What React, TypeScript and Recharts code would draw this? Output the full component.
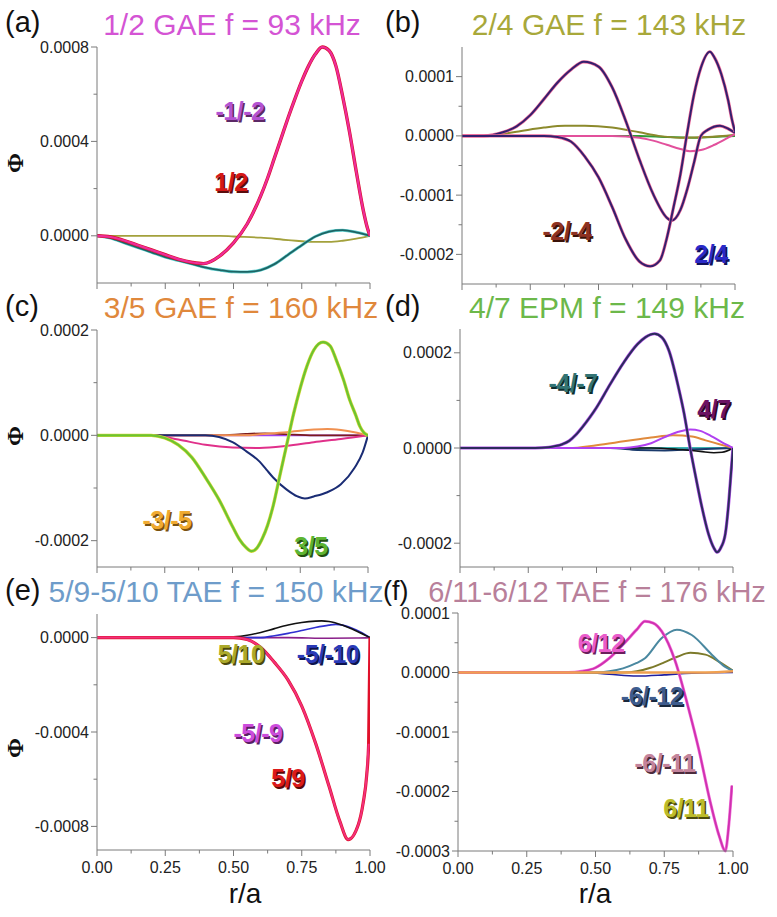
import React from "react";
import { LineChart, Line, XAxis, YAxis } from "recharts";

type Pt = [number, number];

// Φ values below are in units of 1e-5, r/a from 0 to 1

// (a) 1/2 GAE
const A_12: Pt[] = [[0, 0], [0.05, -0.5], [0.1, -2], [0.15, -4], [0.2, -6], [0.25, -8], [0.3, -10], [0.35, -11.3], [0.39, -11.8], [0.45, -8.5], [0.5, -3], [0.55, 5], [0.6, 17], [0.625, 24.5], [0.65, 33], [0.675, 41.5], [0.7, 50], [0.725, 58], [0.75, 65.5], [0.775, 72], [0.8, 77], [0.825, 80], [0.85, 78.5], [0.875, 72], [0.9, 59], [0.925, 44], [0.95, 27], [0.975, 11], [0.99, 3.5], [1, 0]];
const A_M12: Pt[] = A_12;
const A_TEAL: Pt[] = [[0, 0], [0.05, -1], [0.1, -3], [0.15, -5], [0.2, -7], [0.25, -9], [0.3, -10.5], [0.35, -12], [0.4, -13.5], [0.45, -14.5], [0.5, -15.2], [0.55, -15.3], [0.6, -14.5], [0.65, -12], [0.7, -8], [0.75, -4], [0.8, -0.3], [0.85, 1.8], [0.9, 2.4], [0.95, 1.5], [1, 0]];
const A_OLIVE: Pt[] = [[0, 0], [0.45, 0], [0.5, -0.3], [0.6, -0.8], [0.7, -1.8], [0.8, -2.6], [0.85, -2.6], [0.9, -2.1], [0.95, -1.2], [1, 0]];

// (b) 2/4 GAE
const B_PEAK: Pt[] = [[0, 0], [0.08, 0], [0.15, 0.6], [0.2, 1.6], [0.25, 3.5], [0.3, 6.2], [0.35, 9], [0.4, 11.2], [0.446, 12.5], [0.5, 11.7], [0.55, 8.2], [0.6, 2.5], [0.65, -4], [0.7, -9.8], [0.75, -13.8], [0.768, -14.3], [0.8, -12.5], [0.825, -9], [0.85, -4.5], [0.875, 0], [0.9, 1], [0.945, 1.7], [0.975, 1.2], [1, 0.5]];
const B_DEEP: Pt[] = [[0, 0], [0.3, 0], [0.35, -0.2], [0.4, -1], [0.45, -3.5], [0.5, -7], [0.55, -12], [0.6, -17.5], [0.65, -21.2], [0.689, -22], [0.725, -21], [0.75, -17.3], [0.775, -12], [0.8, -6.5], [0.823, 0], [0.85, 7], [0.875, 11.5], [0.908, 14.2], [0.925, 13.2], [0.95, 10.4], [0.975, 6], [0.99, 2.5], [1, 0.7]];
const B_OLIVE: Pt[] = [[0, 0], [0.1, 0.1], [0.2, 0.7], [0.3, 1.4], [0.377, 1.7], [0.45, 1.7], [0.55, 1.4], [0.65, 0.6], [0.72, 0], [0.8, -0.3], [0.9, -0.2], [1, 0.2]];
const B_PINK: Pt[] = [[0, 0], [0.55, 0], [0.65, -0.3], [0.7, -0.8], [0.75, -1.5], [0.8, -2.2], [0.835, -2.6], [0.875, -2.4], [0.925, -1.5], [0.975, -0.3], [1, 0.3]];
const B_GREEN: Pt[] = [[0, 0], [0.65, 0], [0.75, -0.2], [0.85, -0.3], [0.95, -0.1], [1, 0]];

// (c) 3/5 GAE
const C_35: Pt[] = [[0, 0], [0.2, 0], [0.25, -0.5], [0.3, -1.8], [0.35, -4.2], [0.4, -8], [0.45, -12.2], [0.5, -17.3], [0.525, -19.7], [0.55, -21.3], [0.57, -22], [0.59, -21.4], [0.61, -19.6], [0.63, -17], [0.65, -13.4], [0.674, -7.8], [0.7, -1.8], [0.725, 4], [0.75, 9], [0.775, 13.2], [0.8, 16.2], [0.834, 17.7], [0.86, 17], [0.883, 14.3], [0.91, 10.5], [0.932, 6.8], [0.955, 3.8], [0.97, 1.7], [0.985, 0.5], [1, 0]];
const C_NAVY: Pt[] = [[0, 0], [0.4, 0], [0.45, -0.3], [0.5, -1.3], [0.55, -3], [0.6, -5], [0.625, -6.5], [0.65, -8], [0.7, -10.3], [0.74, -11.6], [0.767, -12], [0.8, -11.6], [0.85, -10.8], [0.9, -9.3], [0.95, -6.2], [0.98, -3.3], [1, 0]];
const C_PINK: Pt[] = [[0, 0], [0.2, 0], [0.3, -0.8], [0.4, -1.8], [0.5, -2.3], [0.6, -2.4], [0.7, -2], [0.8, -1.3], [0.9, -0.7], [1, 0]];
const C_ORANGE: Pt[] = [[0, 0], [0.55, 0], [0.6, 0.2], [0.7, 0.6], [0.8, 1.1], [0.85, 1.2], [0.9, 1], [0.95, 0.6], [1, 0]];
const C_BROWN: Pt[] = [[0, 0], [0.45, 0], [0.55, 0.3], [0.62, 0.4], [0.7, 0.2], [0.8, 0], [1, 0]];
const C_PURPLE: Pt[] = [[0, 0], [1, 0]];

// (d) 4/7 EPM
const D_MAIN: Pt[] = [[0, 0], [0.25, 0], [0.3, 0.05], [0.325, 0.15], [0.35, 0.4], [0.375, 0.8], [0.4, 1.5], [0.425, 2.8], [0.45, 4.5], [0.475, 6.4], [0.5, 8.5], [0.55, 13.4], [0.6, 18], [0.65, 21.8], [0.68, 23.3], [0.713, 24], [0.74, 23.2], [0.765, 20.5], [0.8, 12.8], [0.82, 7.5], [0.843, 0], [0.865, -6.5], [0.886, -12.4], [0.91, -18], [0.93, -21], [0.941, -21.9], [0.955, -21], [0.972, -18], [0.985, -11], [0.993, -5], [1, 0]];
const D_47: Pt[] = [[0, 0], [0.6, 0], [0.65, 0.3], [0.7, 1], [0.75, 2.3], [0.8, 3.4], [0.843, 3.9], [0.88, 3.6], [0.92, 2.5], [0.96, 1.2], [0.99, 0.3], [1, 0]];
const D_ORANGE: Pt[] = [[0, 0], [0.4, 0], [0.5, 0.6], [0.6, 1.4], [0.7, 2.2], [0.78, 2.7], [0.85, 2.4], [0.9, 1.6], [0.95, 0.8], [1, 0]];
const D_BLACK: Pt[] = [[0, 0], [0.7, 0], [0.8, -0.3], [0.88, -0.7], [0.93, -1], [0.96, -0.9], [1, 0]];
const D_NAVY: Pt[] = [[0, 0], [0.55, 0], [0.65, -0.4], [0.75, -0.5], [0.85, -0.3], [0.95, -0.1], [1, 0]];
const D_TEAL: Pt[] = [[0, 0], [1, 0]];

// (e) 5/9-5/10 TAE
const E_59: Pt[] = [[0, 0], [0.5, 0], [0.55, -0.8], [0.6, -4.2], [0.65, -10.5], [0.7, -18], [0.75, -29], [0.8, -44.5], [0.85, -63], [0.89, -78], [0.92, -85.6], [0.957, -79.3], [0.975, -70], [0.988, -58.2], [0.995, -45], [1, 0]];
const E_M59: Pt[] = [[0, 0], [0.5, 0], [0.55, -0.8], [0.6, -4.2], [0.65, -10.5], [0.7, -18], [0.75, -29], [0.8, -44.5], [0.85, -63], [0.89, -78], [0.92, -85.6], [0.957, -79.3], [0.975, -70], [0.988, -58.2], [0.995, -45]];
const E_BLACK: Pt[] = [[0, 0], [0.45, 0], [0.5, 0.3], [0.55, 1], [0.6, 2.2], [0.65, 3.8], [0.7, 5.3], [0.75, 6.4], [0.8, 7], [0.823, 7.1], [0.85, 6.8], [0.9, 5.2], [0.95, 2.8], [1, 0]];
const E_BLUE: Pt[] = [[0, 0], [0.6, 0], [0.65, 0.8], [0.7, 1.8], [0.75, 3], [0.8, 4.3], [0.85, 5.3], [0.875, 5.6], [0.9, 5.3], [0.95, 3.2], [1, 0]];
const E_PURPLE: Pt[] = [[0, 0], [0.7, 0], [0.85, -0.3], [0.95, -0.2], [1, 0]];

// (f) 6/11-6/12 TAE
const F_MAG: Pt[] = [[0, 0], [0.4, 0], [0.45, 0.2], [0.5, 0.8], [0.55, 2.4], [0.6, 4.7], [0.65, 7.2], [0.68, 8.6], [0.71, 8.3], [0.741, 6.9], [0.79, 1.9], [0.838, -6], [0.875, -12.8], [0.917, -21.7], [0.95, -27.5], [0.972, -30], [0.984, -26], [0.996, -19]];
const F_TEAL: Pt[] = [[0, 0], [0.5, 0], [0.55, 0.2], [0.6, 0.7], [0.65, 1.6], [0.68, 2.4], [0.741, 5.8], [0.796, 7.2], [0.85, 6.3], [0.923, 3], [0.97, 1], [1, 0.3]];
const F_OLIVE: Pt[] = [[0, 0], [0.6, 0], [0.65, 0.2], [0.7, 0.8], [0.75, 1.7], [0.8, 2.7], [0.845, 3.3], [0.9, 3], [0.95, 1.8], [1, 0.3]];
const F_NAVY: Pt[] = [[0, 0], [0.45, 0], [0.55, -0.3], [0.65, -0.6], [0.75, -0.4], [0.85, -0.1], [1, 0]];
const F_ORANGE: Pt[] = [[0, 0], [0.9, 0], [1, 0.2]];

const R_TICKS = [0, 0.125, 0.25, 0.375, 0.5, 0.625, 0.75, 0.875, 1];
const R_MAJOR = [0, 0.25, 0.5, 0.75, 1];

const FONT = "'Liberation Sans', Arial, sans-serif";

type Series = { pts: Pt[]; color: string; w: number };
type PanelDef = {
  box: [number, number, number, number];
  domain: [number, number];
  majors: number[];
  minors: number[];
  xLabels: boolean;
  series: Series[];
};

const PANELS: PanelDef[] = [
  {
    box: [97, 47, 370, 283], domain: [-20, 80], majors: [0, 40, 80], minors: [20, 60], xLabels: false,
    series: [
      { pts: A_OLIVE, color: "#a3a13c", w: 1.8 },
      { pts: A_TEAL, color: "#5fd0d0", w: 3 },
      { pts: A_TEAL, color: "#1e6464", w: 1.8 },
      { pts: A_12, color: "#d8102a", w: 3.4 },
      { pts: A_M12, color: "#ee2c9a", w: 2.2 },
    ],
  },
  {
    box: [462, 47, 735, 284], domain: [-25, 15], majors: [10, 0, -10, -20], minors: [5, -5, -15], xLabels: false,
    series: [
      { pts: B_GREEN, color: "#2f9a36", w: 2 },
      { pts: B_OLIVE, color: "#8c8a2c", w: 2 },
      { pts: B_PINK, color: "#e2509c", w: 2 },
      { pts: B_PEAK, color: "#f06a9a", w: 3.2 },
      { pts: B_PEAK, color: "#34206e", w: 2 },
      { pts: B_DEEP, color: "#f06a9a", w: 3.2 },
      { pts: B_DEEP, color: "#34206e", w: 2 },
    ],
  },
  {
    box: [97, 330, 368, 567], domain: [-25, 20], majors: [20, 0, -20], minors: [10, -10], xLabels: false,
    series: [
      { pts: C_PURPLE, color: "#a040f0", w: 1.8 },
      { pts: C_BROWN, color: "#7a1c1c", w: 1.6 },
      { pts: C_ORANGE, color: "#f09050", w: 2 },
      { pts: C_PINK, color: "#e0308a", w: 2 },
      { pts: C_NAVY, color: "#1a2c74", w: 2 },
      { pts: C_35, color: "#d8d83a", w: 3.4 },
      { pts: C_35, color: "#6cc430", w: 2.2 },
    ],
  },
  {
    box: [460, 329, 733, 567], domain: [-25, 25], majors: [20, 0, -20], minors: [10, -10], xLabels: false,
    series: [
      { pts: D_TEAL, color: "#3cb4b4", w: 1.8 },
      { pts: D_NAVY, color: "#1a3a6c", w: 2 },
      { pts: D_BLACK, color: "#111111", w: 1.6 },
      { pts: D_ORANGE, color: "#e08a3c", w: 2 },
      { pts: D_47, color: "#b040f0", w: 2 },
      { pts: D_MAIN, color: "#b050e8", w: 3.2 },
      { pts: D_MAIN, color: "#2c2c5c", w: 2 },
    ],
  },
  {
    box: [97, 614, 370, 850], domain: [-90, 10], majors: [0, -40, -80], minors: [-20, -60], xLabels: true,
    series: [
      { pts: E_PURPLE, color: "#8a208a", w: 1.6 },
      { pts: E_BLUE, color: "#3030d0", w: 1.6 },
      { pts: E_BLACK, color: "#111111", w: 1.6 },
      { pts: E_59, color: "#e0102a", w: 3.2 },
      { pts: E_M59, color: "#f2307c", w: 2 },
    ],
  },
  {
    box: [458, 613, 733, 851], domain: [-30, 10], majors: [10, 0, -10, -20, -30], minors: [5, -5, -15, -25], xLabels: true,
    series: [
      { pts: F_NAVY, color: "#2020a0", w: 1.6 },
      { pts: F_OLIVE, color: "#7c7a2a", w: 2 },
      { pts: F_TEAL, color: "#4a88a0", w: 2 },
      { pts: F_MAG, color: "#f070d8", w: 3 },
      { pts: F_MAG, color: "#d030b0", w: 1.8 },
      { pts: F_ORANGE, color: "#f0a050", w: 2.6 },
    ],
  },
];

const TITLES = [
  { text: "1/2 GAE f = 93 kHz", x: 232, y: 35, color: "#d454d4", size: 30 },
  { text: "2/4 GAE f = 143 kHz", x: 609, y: 35, color: "#a8a83a", size: 30 },
  { text: "3/5 GAE f = 160 kHz", x: 241, y: 318, color: "#e0883c", size: 30 },
  { text: "4/7 EPM f = 149 kHz", x: 607, y: 318, color: "#6cb84a", size: 30 },
  { text: "5/9-5/10 TAE f = 150 kHz", x: 216, y: 602, color: "#6e9cca", size: 30 },
  { text: "6/11-6/12 TAE f = 176 kHz", x: 597, y: 602, color: "#b8809a", size: 29 },
];

const TAGS = [
  { text: "(a)", x: 5, y: 32, size: 29 },
  { text: "(b)", x: 385, y: 32, size: 29 },
  { text: "(c)", x: 5, y: 316, size: 29 },
  { text: "(d)", x: 385, y: 316, size: 29 },
  { text: "(e)", x: 5, y: 600, size: 29 },
  { text: "(f)", x: 383, y: 600, size: 27 },
];

const CURVE_LABELS = [
  { text: "-1/-2", x: 240, y: 120, fill: "#b452d2", shade: "#5c2866" },
  { text: "1/2", x: 231, y: 191, fill: "#d41818", shade: "#5a0c0c" },
  { text: "-2/-4", x: 567, y: 240, fill: "#8e3222", shade: "#3a1208" },
  { text: "2/4", x: 711, y: 263, fill: "#2a2ac8", shade: "#10105a" },
  { text: "-3/-5", x: 167, y: 529, fill: "#f0aa30", shade: "#7a5210" },
  { text: "3/5", x: 311, y: 555, fill: "#5cb432", shade: "#245010" },
  { text: "-4/-7", x: 573, y: 392, fill: "#337474", shade: "#0e2e2e" },
  { text: "4/7", x: 714, y: 418, fill: "#6c1262", shade: "#2c0428" },
  { text: "5/10", x: 241, y: 663, fill: "#acaa2a", shade: "#4c4a0c" },
  { text: "-5/-10", x: 328, y: 663, fill: "#2a3ab8", shade: "#0e144c" },
  { text: "-5/-9", x: 258, y: 742, fill: "#cc4cdc", shade: "#5a1e64" },
  { text: "5/9", x: 288, y: 787, fill: "#dc1a1a", shade: "#5a0808" },
  { text: "6/12", x: 601, y: 652, fill: "#ea5ccc", shade: "#6a1e5c" },
  { text: "-6/-12", x: 652, y: 705, fill: "#3e5c8e", shade: "#18283e" },
  { text: "-6/-11", x: 665, y: 772, fill: "#c4849c", shade: "#4c2c3c" },
  { text: "6/11", x: 686, y: 817, fill: "#bcbc2a", shade: "#4c4c0c" },
];

const rows = (pts: Pt[]) => pts.map(([r, v]) => ({ r, v }));
const fmtY = (v: number) => (v / 100000).toFixed(4);

const YW = 70;
const XH = 30;
const MT = 10;
const MR = 30;

function Panel({ p }: { p: PanelDef }) {
  const [l, t, r, b] = p.box;
  const yTick = (props: any) => {
    const { x, y, payload } = props;
    const major = p.majors.includes(payload.value);
    return (
      <g>
        <line x1={x} x2={x - (major ? 6 : 3.5)} y1={y} y2={y} stroke="#7a7a7a" strokeWidth={1} />
        {major && (
          <text x={x - 8} y={y + 5.5} textAnchor="end" fontSize={16} fontFamily={FONT} fill="#222">
            {fmtY(payload.value)}
          </text>
        )}
      </g>
    );
  };
  const xTick = (props: any) => {
    const { x, y, payload } = props;
    const major = R_MAJOR.includes(payload.value);
    return (
      <g>
        <line x1={x} x2={x} y1={y} y2={y + (major ? 6 : 3.5)} stroke="#7a7a7a" strokeWidth={1} />
        {major && p.xLabels && (
          <text x={x} y={y + 23} textAnchor="middle" fontSize={16} fontFamily={FONT} fill="#222">
            {payload.value.toFixed(2)}
          </text>
        )}
      </g>
    );
  };
  return (
    <div style={{ position: "absolute", left: l - YW, top: t - MT }}>
      <LineChart
        width={r - l + YW + MR}
        height={b - t + MT + XH}
        margin={{ top: MT, right: MR, bottom: 0, left: 0 }}
      >
        <XAxis
          dataKey="r"
          type="number"
          domain={[0, 1]}
          ticks={R_TICKS}
          interval={0}
          height={XH}
          tickSize={0}
          tickMargin={0}
          tickLine={false}
          axisLine={{ stroke: "#7a7a7a" }}
          tick={xTick}
          allowDataOverflow
        />
        <YAxis
          type="number"
          domain={p.domain}
          ticks={[...p.majors, ...p.minors]}
          interval={0}
          width={YW}
          tickSize={0}
          tickMargin={0}
          tickLine={false}
          axisLine={{ stroke: "#7a7a7a" }}
          tick={yTick}
        />
        {p.series.map((s, i) => (
          <Line
            key={i}
            data={rows(s.pts)}
            dataKey="v"
            type="monotone"
            dot={false}
            activeDot={false}
            stroke={s.color}
            strokeWidth={s.w}
            isAnimationActive={false}
          />
        ))}
      </LineChart>
    </div>
  );
}

export default function App() {
  return (
    <div style={{ position: "absolute", left: 0, top: 0, width: 777, height: 917, background: "#fff" }}>
      {PANELS.map((p, i) => (
        <Panel key={i} p={p} />
      ))}
      <svg
        width={777}
        height={917}
        style={{ position: "absolute", left: 0, top: 0, pointerEvents: "none" }}
        fontFamily={FONT}
      >
        {TAGS.map((t) => (
          <text key={t.text} x={t.x} y={t.y} fontSize={t.size} fill="#111">
            {t.text}
          </text>
        ))}
        {TITLES.map((t) => (
          <text key={t.text} x={t.x} y={t.y} fontSize={t.size} fill={t.color} textAnchor="middle">
            {t.text}
          </text>
        ))}
        {[163, 436, 748].map((cy) => (
          <text
            key={cy}
            x={0}
            y={0}
            transform={`translate(23 ${cy}) rotate(-90)`}
            textAnchor="middle"
            fontSize={24}
            fontWeight="bold"
            fontFamily="'Liberation Serif', 'DejaVu Serif', serif"
            fill="#111"
          >
            Φ
          </text>
        ))}
        <text x={245} y={903} fontSize={28} textAnchor="middle" fill="#111">
          r/a
        </text>
        <text x={595} y={903} fontSize={28} textAnchor="middle" fill="#111">
          r/a
        </text>
        {CURVE_LABELS.map((c) => (
          <g key={c.text} fontSize={25} fontWeight="bold" textAnchor="middle" letterSpacing={-0.5}>
            <text x={c.x + 1.5} y={c.y + 1.5} fill={c.shade}>
              {c.text}
            </text>
            <text x={c.x} y={c.y} fill={c.fill}>
              {c.text}
            </text>
          </g>
        ))}
      </svg>
    </div>
  );
}
